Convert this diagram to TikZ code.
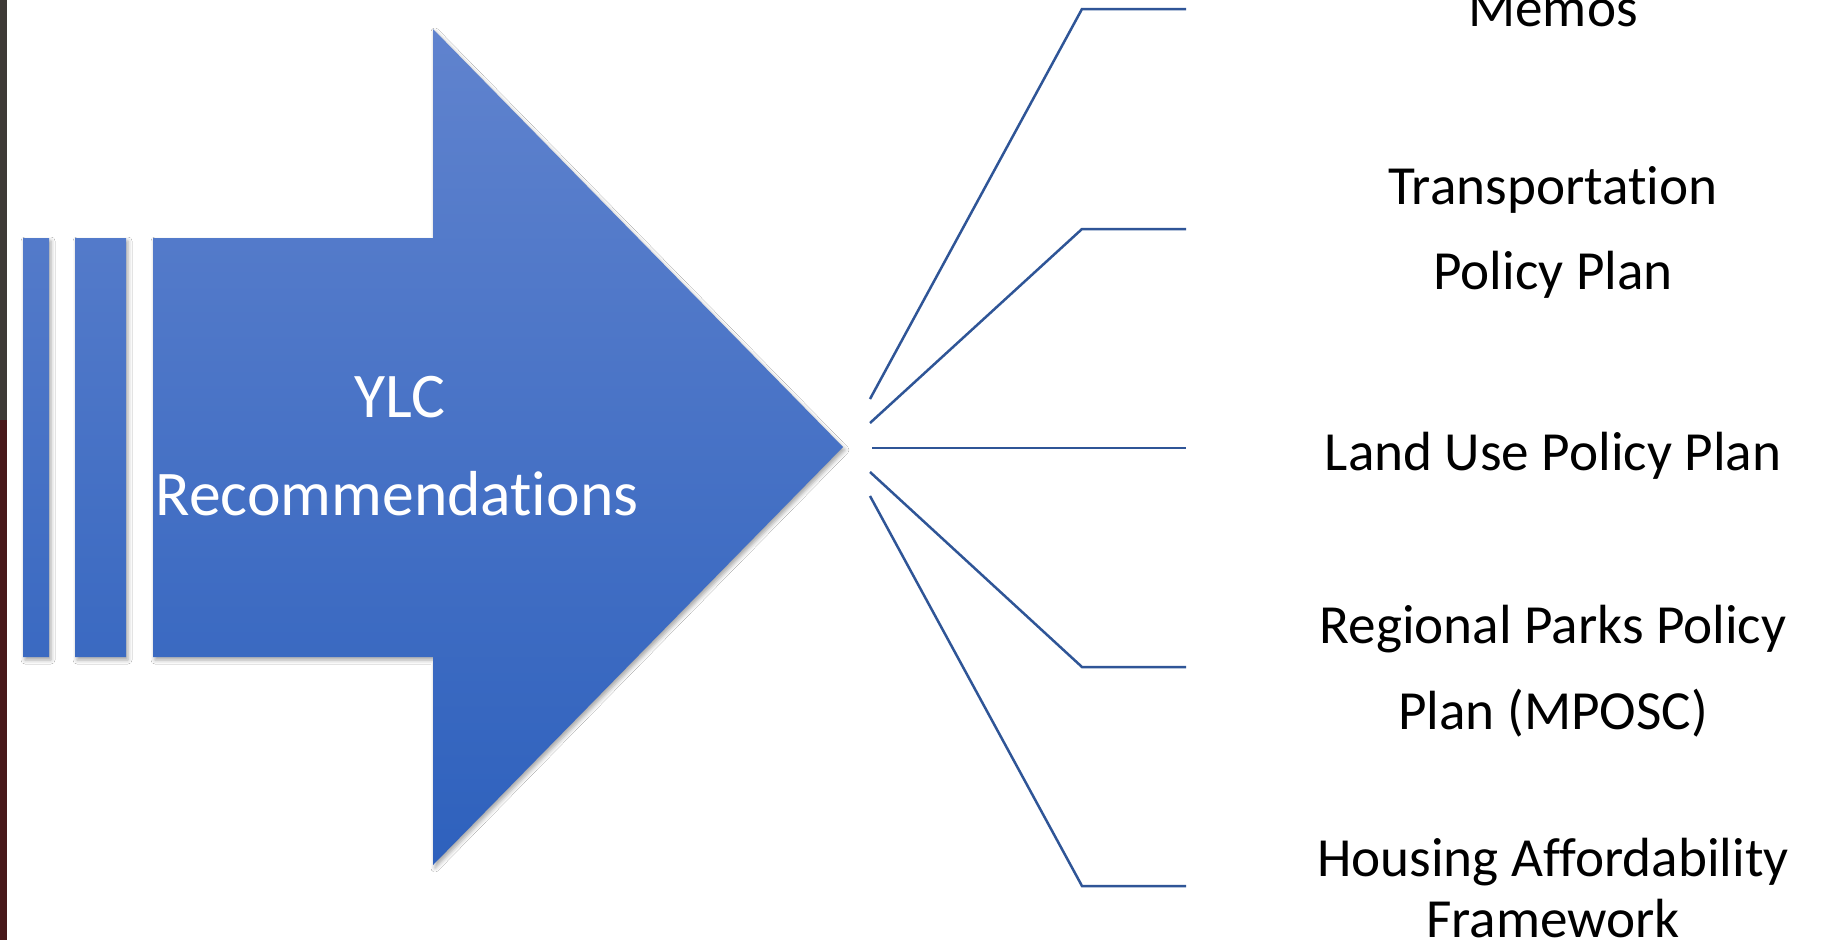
\documentclass[tikz,border=0pt]{standalone}
\usepackage{fontspec}
\setmainfont{Carlito}[Ligatures=NoCommon]
\usetikzlibrary{shadows.blur}
\definecolor{arrowtop}{RGB}{96,131,206}
\definecolor{arrowbot}{RGB}{46,97,189}
\definecolor{linkblue}{RGB}{47,85,151}
\definecolor{phototop}{RGB}{62,58,54}
\definecolor{photobot}{RGB}{72,24,26}
\tikzset{
  link/.style={draw=linkblue, line width=2.5pt, line join=miter},
  label/.style={inner sep=0pt, anchor=base, text=black, font=\fontsize{55.2}{85}\selectfont},
  arrowtext/.style={inner sep=0pt, anchor=base, text=white, font=\fontsize{63.6}{98}\selectfont},
  arrowfill/.style={top color=arrowtop, bottom color=arrowbot, draw=none,
    blur shadow={shadow xshift=2pt, shadow yshift=-3pt, shadow blur radius=4pt, shadow opacity=35}}
}
\begin{document}
\begin{tikzpicture}[x=1pt,y=-1pt]
\useasboundingbox (0,0) rectangle (1831,940);
\fill[white] (0,0) rectangle (1831,940);
% photo edge on the left
\fill[phototop] (0,0) rectangle (7,420);
\fill[photobot] (0,420) rectangle (7,940);
% bars and arrow, one shading over the whole height
\shade[arrowfill]
  (23,238) rectangle (49,657)
  (75,238) rectangle (126,657)
  (153,238) -- (433,238) -- (433,29) -- (843,447) -- (433,865) -- (433,657) -- (153,657) -- cycle;
\node[arrowtext] (ylc) at (400,417) {YLC};
\node[arrowtext] (rec) at (397,515) {Recommendations};
% connector coordinates
\coordinate (s1) at (870,399); \coordinate (e1) at (1082,9);   \coordinate (t1) at (1186,9);
\coordinate (s2) at (870,423); \coordinate (e2) at (1082,229); \coordinate (t2) at (1186,229);
\coordinate (s3) at (872,448); \coordinate (t3) at (1186,448);
\coordinate (s4) at (870,472); \coordinate (e4) at (1082,667); \coordinate (t4) at (1186,667);
\coordinate (s5) at (870,496); \coordinate (e5) at (1082,886); \coordinate (t5) at (1186,886);
\draw[link] (s1) -- (e1) -- (t1);
\draw[link] (s2) -- (e2) -- (t2);
\draw[link] (s3) -- (t3);
\draw[link] (s4) -- (e4) -- (t4);
\draw[link] (s5) -- (e5) -- (t5);
% labels
\node[label] (memos) at (1553,26) {Memos};
\node[label] (tr1) at (1553,204) {Transportation};
\node[label] (tr2) at (1553,289) {Policy Plan};
\node[label] (lu) at (1553,470) {Land Use Policy Plan};
\node[label] (rp1) at (1553,643) {Regional Parks Policy};
\node[label] (rp2) at (1553,729) {Plan (MPOSC)};
\node[label] (ha1) at (1553,876) {Housing Affordability};
\node[label] (ha2) at (1553,937) {Framework};
\end{tikzpicture}
\end{document}
